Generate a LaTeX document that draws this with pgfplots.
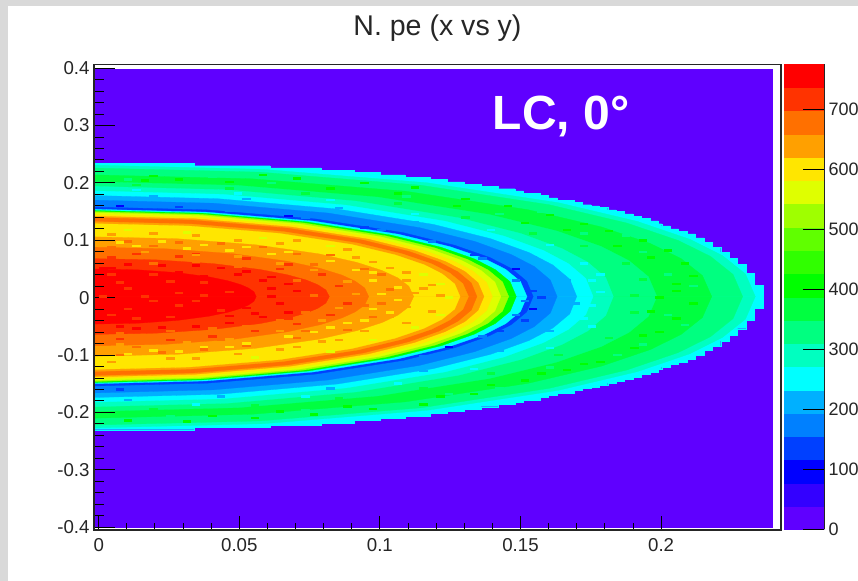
\documentclass[border=0pt]{standalone}
\usepackage{pgfplots}
\pgfplotsset{compat=1.18}
\usepackage{fontspec}
\setmainfont{Liberation Sans}
\definecolor{c0}{HTML}{5F00FF}\definecolor{c1}{HTML}{3300FF}\definecolor{c2}{HTML}{0000FF}
\definecolor{c3}{HTML}{0040FF}\definecolor{c4}{HTML}{0080FF}\definecolor{c5}{HTML}{00B0FF}
\definecolor{c6}{HTML}{00FFFF}\definecolor{c7}{HTML}{00FFC0}\definecolor{c8}{HTML}{00FF80}
\definecolor{c9}{HTML}{00FF40}\definecolor{c10}{HTML}{00FF00}\definecolor{c11}{HTML}{30FF00}
\definecolor{c12}{HTML}{60FF00}\definecolor{c13}{HTML}{9FFF00}\definecolor{c14}{HTML}{DFFF00}
\definecolor{c15}{HTML}{FFE600}\definecolor{c16}{HTML}{FFA000}\definecolor{c17}{HTML}{FF7000}
\definecolor{c18}{HTML}{FF3300}\definecolor{c19}{HTML}{FF0000}
\pgfdeclareplotmark{cell}{\pgfpathrectanglecorners{\pgfpoint{-3.15pt}{-.95pt}}{\pgfpoint{3.15pt}{.95pt}}\pgfusepathqfill}
% one level of the map: upper and lower half about the axis of the shape
\newcommand\layer[2]{%
\addplot[fill=#1,draw=#1,line width=.2pt] table[row sep=\\,x=x,y expr=.002+\thisrow{h}]{x h\\-.0016 0\\#2} -- cycle;
\addplot[fill=#1,draw=#1,line width=.2pt] table[row sep=\\,x=x,y expr=.002-\thisrow{h}]{x h\\-.0016 0\\#2} -- cycle;}
\newcommand\stair[2]{%
\addplot[const plot,fill=#1,draw=#1,line width=.2pt] table[row sep=\\,x=x,y expr=.002+\thisrow{h}]{x h\\-.0016 0\\#2} -- cycle;
\addplot[const plot,fill=#1,draw=#1,line width=.2pt] table[row sep=\\,x=x,y expr=.002-\thisrow{h}]{x h\\-.0016 0\\#2} -- cycle;}
\newcommand\cells[2]{\addplot[only marks,mark=cell,color=#1] coordinates {#2};}
\newcommand\band[3]{\addplot[fill=#1,draw=#1,line width=.1pt] coordinates {(0,#2)(1,#2)(1,#3)(0,#3)} -- cycle;}
\begin{document}
\begin{tikzpicture}
\path[use as bounding box] (0pt,0pt) rectangle (643.5pt,435.75pt);
\fill[gray!30] (0pt,0pt) rectangle (643.5pt,435.75pt);
\fill[white] (6pt,0pt) rectangle (643.5pt,431.5pt);
\begin{axis}[
  at={(70.5pt,38.25pt)},anchor=south west,scale only axis,
  width=515.25pt,height=349.125pt,
  xmin=-.00167,xmax=.24264,ymin=-.4049,ymax=.4064,
  xtick={0,.05,.1,.15,.2},xticklabels={0,0.05,0.1,0.15,0.2},
  ytick={-.4,-.3,-.2,-.1,0,.1,.2,.3,.4},
  yticklabels={-0.4,-0.3,-0.2,-0.1,0,0.1,0.2,0.3,0.4},
  minor x tick num=4,minor y tick num=4,
  tick align=inside,xtick pos=bottom,ytick pos=left,
  x tick style={/pgfplots/major tick length=10.5pt,/pgfplots/minor tick length=5.2pt,line width=.7pt,color=black},
  y tick style={/pgfplots/major tick length=15.75pt,/pgfplots/minor tick length=7.5pt,line width=.7pt,color=black},
  axis line style={line width=.9pt,color=black!85},
  axis on top,clip=true,
  tick label style={font=\fontsize{14}{14}\selectfont,color=black!85},
  yticklabel style={inner sep=0pt,xshift=-3.2pt},
  xticklabel style={inner sep=0pt,yshift=-6pt},
]
\addplot[fill=c0,draw=c0] coordinates {(-.00167,-.4)(.2394,-.4)(.2394,.3985)(-.00167,.3985)} -- cycle;
\stair{c6}{-.0016 .232\\.034 .228\\.061 .224\\.079 .220\\.091 .216\\.100 .212\\.109 .208\\.118 .204\\.124 .200\\.130 .196\\.136 .192\\.142 .188\\.148 .184\\.151 .180\\.157 .176\\.160 .172\\.163 .168\\.169 .164\\.172 .160\\.175 .158\\.178 .155\\.181 .151\\.184 .148\\.187 .144\\.190 .140\\.193 .136\\.196 .132\\.199 .127\\.2002 .123\\.2032 .118\\.2062 .114\\.2092 .109\\.2122 .102\\.2152 .094\\.2182 .086\\.2212 .0775\\.2242 .067\\.2272 .056\\.2302 .041\\.2332 .020\\.2362 0\\}
\layer{c7}{-.0016 .229\\.0584 .2217\\.1168 .1983\\.1635 .1635\\.1915 .1310\\.2102 .0998\\.2218 .0714\\.2300 .0394\\.2335 0\\}
\layer{c8}{-.0016 .224\\.0573 .2168\\.1145 .1940\\.1603 .1599\\.1878 .1281\\.2061 .0977\\.2176 .0699\\.2256 .0385\\.229 0\\}
\layer{c9}{-.0016 .212\\.0545 .2052\\.109 .1836\\.1526 .1514\\.1788 .1213\\.1962 .0924\\.2071 .0661\\.2147 .0365\\.218 0\\}
\layer{c8}{-.0016 .200\\.0496 .1936\\.0993 .1732\\.139 .1428\\.1628 .1144\\.1787 .0872\\.1886 .0624\\.1955 .0344\\.1985 0\\}
\layer{c7}{-.0016 .192\\.0458 .1859\\.0915 .1663\\.1281 .1371\\.1501 .1098\\.1647 .0837\\.1739 .0599\\.1803 .033\\.183 0\\}
\layer{c6}{-.0016 .184\\.044 .1781\\.0879 .1593\\.1231 .1314\\.1442 .1052\\.1582 .0802\\.167 .0574\\.1732 .0316\\.1758 0\\}
\layer{c5}{-.0016 .176\\.0425 .1704\\.085 .1524\\.119 .1257\\.1394 .1007\\.153 .0767\\.1615 .0549\\.1675 .0303\\.17 0\\}
\layer{c4}{-.0016 .168\\.0408 .1626\\.0815 .1455\\.1141 .12\\.1337 .0961\\.1467 .0732\\.1549 .0524\\.1606 .0289\\.163 0\\}
\layer{c3}{-.0016 .156\\.0386 .151\\.0773 .1351\\.1082 .1114\\.1267 .0892\\.1391 .068\\.1468 .0487\\.1522 .0268\\.1545 0\\}
\layer{c6}{-.0016 .152\\.0381 .1471\\.0762 .1316\\.1066 .1085\\.1249 .0869\\.1371 .0663\\.1447 .0474\\.15 .0261\\.1523 0\\}
\layer{c10}{-.0016 .15\\.0371 .1452\\.0743 .1299\\.104 .1071\\.1218 .0858\\.1337 .0654\\.1411 .0468\\.1463 .0258\\.1485 0\\}
\layer{c13}{-.0016 .148\\.0365 .1433\\.0729 .1282\\.1021 .1057\\.1196 .0847\\.1312 .0645\\.1385 .0462\\.1436 .0255\\.1458 0\\}
\layer{c14}{-.0016 .146\\.0358 .1413\\.0715 .1264\\.1001 .1042\\.1173 .0835\\.1287 .0637\\.1359 .0456\\.1409 .0251\\.143 0\\}
\layer{c15}{-.0016 .143\\.035 .1384\\.07 .1238\\.098 .1021\\.1148 .0818\\.126 .0623\\.133 .0446\\.1379 .0246\\.14 0\\}
\layer{c16}{-.0016 .14\\.0343 .1355\\.0685 .1212\\.0959 .1\\.1123 .0801\\.1233 .061\\.1302 .0437\\.1349 .0241\\.137 0\\}
\layer{c17}{-.0016 .1375\\.0336 .1331\\.0673 .1191\\.0942 .0982\\.1103 .0787\\.1211 .06\\.1278 .0429\\.1325 .0237\\.1345 0\\}
\layer{c16}{-.0016 .1305\\.0329 .1263\\.0658 .113\\.0921 .0932\\.1078 .0746\\.1184 .0569\\.1249 .0407\\.1295 .0224\\.1315 0\\}
\layer{c15}{-.0016 .127\\.0321 .1229\\.0643 .11\\.09 .0907\\.1054 .0726\\.1157 .0554\\.1221 .0396\\.1266 .0218\\.1285 0\\}
\layer{c16}{-.0016 .104\\.028 .1007\\.056 .0901\\.0784 .0743\\.0918 .0595\\.1008 .0453\\.1064 .0324\\.1103 .0179\\.112 0\\}
\layer{c17}{-.0016 .086\\.024 .0832\\.048 .0745\\.0672 .0614\\.0787 .0492\\.0864 .0375\\.0912 .0268\\.0946 .0148\\.096 0\\}
\layer{c18}{-.0016 .066\\.0205 .0639\\.041 .0572\\.0574 .0471\\.0672 .0378\\.0738 .0288\\.0779 .0206\\.0808 .0114\\.082 0\\}
\layer{c19}{-.0016 .048\\.014 .0465\\.028 .0416\\.0392 .0343\\.0459 .0275\\.0504 .0209\\.0532 .015\\.0552 .0083\\.056 0\\}
\cells{c19}{(.0045,.052)(.0135,.046)(.0285,.044)(.0375,.038)(.0495,.040)(.0585,.030)(.0615,.002)(.0525,-.018)(.0465,-.032)(.0075,-.050)(.0615,.036)(.0675,.024)(.0705,.012)(.0645,-.010)(.0675,-.026)(.0585,-.034)(.0525,.046)(.0435,.052)(.0345,.056)(.0225,.056)(.0105,.058)(.0015,.052)(.0465,-.044)(.0345,-.050)(.0225,-.052)(.0135,-.054)(.0555,-.028)(.0615,.016)}
\cells{c18}{(.0045,.040)(.0195,.040)(.0375,.026)(.0465,.010)(.0285,-.014)(.0435,-.022)(.0135,-.036)(.0075,.026)(.0255,.028)(.0375,.004)(.0165,.002)(.0045,-.030)(.0255,-.034)(.0015,.002)(.0105,.016)(.0195,-.006)(.0285,.008)(.0105,-.020)(.0345,-.006)(.0795,.040)(.0855,.020)(.0885,-.010)(.0825,-.030)(.0705,-.046)(.0555,-.058)(.0405,-.068)(.0255,-.074)(.0075,-.072)(.0135,.076)(.0345,.076)(.0525,.068)(.0675,.058)(.0045,.070)(.0285,.072)(.0645,.050)(.0765,.020)(.0675,-.036)}
\cells{c17}{(.0705,.030)(.0765,.004)(.0735,-.026)(.0645,-.040)(.0525,-.050)(.0405,-.054)(.0255,-.058)(.0075,-.062)(.0195,.060)(.0345,.062)(.0495,.054)(.0105,.098)(.0285,.096)(.0435,.094)(.0585,.088)(.0705,.076)(.0825,.074)(.0945,.050)(.1005,.040)(.1035,.014)(.1005,-.010)(.0975,-.034)(.0885,-.056)(.0705,-.070)(.0525,-.084)(.0375,-.090)(.0225,-.096)(.0075,-.100)(.0045,.088)(.0195,.090)(.0765,.058)(.0915,.022)(.0945,-.014)(.0735,-.058)(.0435,-.074)(.0135,-.086)}
\cells{c16}{(.0165,.080)(.0345,.074)(.0495,.072)(.0645,.060)(.0765,.048)(.0885,.028)(.0915,.006)(.0855,-.018)(.0795,-.040)(.0645,-.058)(.0465,-.072)(.0315,-.078)(.0075,-.082)(.0705,.100)(.0885,.084)(.0975,.062)(.1095,.044)(.1185,.022)(.1215,.004)(.1185,-.024)(.1095,-.044)(.0855,-.074)(.0705,-.086)(.0255,-.106)(.0045,.110)(.0195,.112)(.0345,.108)(.0495,.100)(.0645,.094)(.0915,.070)(.1035,.052)(.1095,.030)(.1125,.008)(.1095,-.016)(.1035,-.034)(.0945,-.058)(.0795,-.076)(.0645,-.090)(.0495,-.098)(.0345,-.106)(.0045,-.112)(.1155,.016)}
\cells{c15}{(.0135,.090)(.0315,.086)(.0465,.082)(.0615,.076)(.0975,.044)(.1065,.018)(.1065,-.004)(.1035,-.026)(.0945,-.040)(.0825,-.052)(.0675,-.068)(.0525,-.080)(.0375,-.086)(.0195,-.092)(.0075,.096)(.0225,.098)(.0375,.092)(.0525,.088)(.0675,.080)(.0825,.064)(.0915,.048)(.0975,.030)(.1005,.006)(.0975,-.020)(.0885,-.044)(.0765,-.060)(.0465,-.086)(.0285,-.094)(.0105,-.098)}
\cells{c14}{(.1155,.040)(.1215,.024)(.1245,.000)(.1215,-.030)(.1125,-.052)(.0975,-.074)(.0825,-.094)(.0555,-.104)(.0825,.090)(.0585,.104)(.0315,.114)(.0105,.118)}
\cells{c10}{(.0195,.212)(.0285,.206)(.0585,.214)(.0705,.208)(.0945,.200)(.1125,.192)(.1305,.172)(.1455,.160)(.1605,.144)(.1725,.128)(.1815,.116)(.1935,.100)(.2025,.082)(.2085,.060)(.2115,.038)(.2055,.012)(.2115,-.010)(.2055,-.036)(.1995,-.060)(.1905,-.088)(.1785,-.112)(.1665,-.126)(.1515,-.144)(.1335,-.168)(.1155,-.186)(.0975,-.194)(.0765,-.204)(.0555,-.210)(.0315,-.216)(.0105,-.214)(.0165,.204)(.0465,.202)(.0825,.190)(.1065,.182)(.1275,.160)(.1515,.130)(.1665,.118)(.1845,.090)(.1965,.070)(.2055,.024)(.1995,.000)(.1965,-.024)(.1935,-.066)(.1725,-.116)(.1575,-.132)(.1395,-.152)(.1215,-.172)(.0885,-.190)(.0645,-.198)(.0405,-.206)}
\cells{c8}{(.0405,.210)(.0855,.198)(.1245,.178)(.1575,.150)(.1875,.108)(.2025,.040)(.2025,-.030)(.1845,-.100)(.1425,-.158)(.1035,-.190)(.0495,-.208)(.0105,.206)(.0615,.200)(.1095,.176)(.1425,.146)(.1725,.112)(.1935,.080)(.2115,.020)(.2085,-.048)(.1935,-.082)(.1605,-.122)(.1245,-.168)(.0735,-.196)(.0255,-.206)}
\cells{c9}{(.0135,.196)(.0465,.190)(.0735,.182)(.1065,.164)(.1305,.140)(.1545,.112)(.1725,.090)(.1875,.060)(.1935,.032)(.1905,.004)(.1905,-.026)(.1815,-.070)(.1635,-.100)(.1395,-.132)(.1155,-.158)(.0855,-.176)(.0555,-.188)(.0195,-.194)}
\cells{c6}{(.0135,.188)(.0495,.182)(.0825,.170)(.1125,.146)(.1395,.118)(.1605,.092)(.1785,.040)(.1725,.060)(.1755,-.050)(.1605,-.088)(.1335,-.124)(.1065,-.150)(.0735,-.172)(.0345,-.186)(.1755,.030)(.1785,.010)(.1755,-.014)(.1725,-.036)}
\cells{c5}{(.0195,.176)(.0525,.172)(.0855,.156)(.1125,.132)(.1365,.102)(.1545,.070)(.1665,.030)(.1695,-.010)(.1605,-.058)(.1425,-.092)(.1155,-.128)(.0825,-.158)(.0435,-.172)(.0105,-.178)}
\cells{c4}{(.0165,.158)(.0465,.152)(.0735,.140)(.1005,.118)(.1185,.098)(.1365,.068)(.1485,.030)(.1515,-.006)(.1485,-.030)(.1365,-.068)(.1155,-.102)(.0885,-.130)(.0555,-.148)(.0225,-.156)}
\cells{c3}{(.1545,.012)(.1575,.000)(.1515,-.040)(.1425,-.058)(.1335,.074)(.0945,.122)(.0285,.158)(.0075,-.160)}
\cells{c2}{(.1545,-.020)(.1485,.050)(.1245,-.086)(.0675,.142)(.0075,.160)}
\end{axis}
\begin{axis}[
  at={(588pt,38.775pt)},anchor=south west,scale only axis,
  width=30.2pt,height=349pt,
  xmin=0,xmax=1,ymin=0,ymax=776,
  axis x line=none,axis y line=right,
  axis line style={-,line width=.9pt,color=black!85},
  ytick={0,100,200,300,400,500,600,700},
  tick align=inside,major tick length=15.75pt,
  tick style={line width=.7pt,color=black},
  axis on top,
  tick label style={font=\fontsize{13.5}{14}\selectfont,color=black!85},
  yticklabel style={inner sep=0pt,xshift=3pt},
  /pgf/number format/assume math mode=true,
]
\band{c0}{0}{38.8}\band{c1}{38.8}{77.6}\band{c2}{77.6}{116.4}\band{c3}{116.4}{155.2}
\band{c4}{155.2}{194}\band{c5}{194}{232.8}\band{c6}{232.8}{271.6}\band{c7}{271.6}{310.4}
\band{c8}{310.4}{349.2}\band{c9}{349.2}{388}\band{c10}{388}{426.8}\band{c11}{426.8}{465.6}
\band{c12}{465.6}{504.4}\band{c13}{504.4}{543.2}\band{c14}{543.2}{582}\band{c15}{582}{620.8}
\band{c16}{620.8}{659.6}\band{c17}{659.6}{698.4}\band{c18}{698.4}{737.2}\band{c19}{737.2}{776}
\end{axis}
\node[font=\fontsize{21.4}{23}\selectfont,color=black!85] at (328.1pt,415pt) {N. pe (x vs y)};
\node[font=\bfseries\fontsize{36}{38}\selectfont,color=white,anchor=base] at (420.75pt,338.25pt) {LC, 0°};
\end{tikzpicture}
\end{document}
